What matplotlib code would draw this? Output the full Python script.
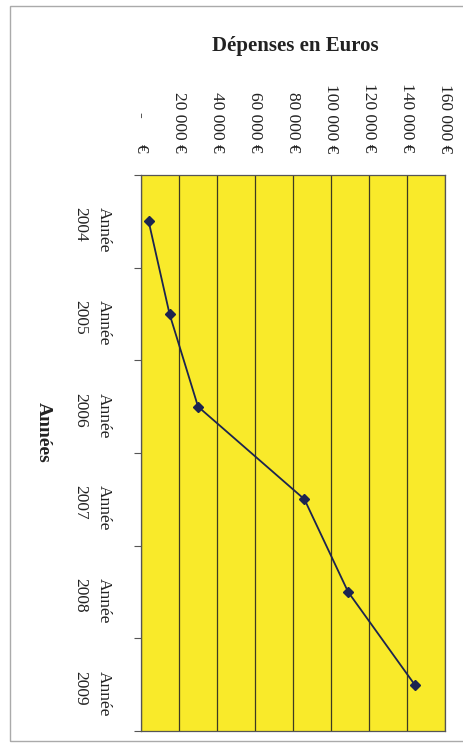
#!/usr/bin/env python3
"""Dépenses en Euros par année, graphique tourné (lecture de haut en bas)."""

import matplotlib

matplotlib.use("Agg")
import matplotlib.pyplot as plt
import numpy as np
from matplotlib.patches import Rectangle

years = ["Année\n2004", "Année\n2005", "Année\n2006", "Année\n2007", "Année\n2008", "Année\n2009"]
spending = [4000, 15000, 30000, 86000, 109000, 144000]
value_ticks = [0, 20000, 40000, 60000, 80000, 100000, 120000, 140000, 160000]
value_labels = ["-      €", "20 000 €", "40 000 €", "60 000 €", "80 000 €",
                "100 000 €", "120 000 €", "140 000 €", "160 000 €"]

YELLOW = "#f9ea2a"
NAVY = "#1c2450"
GRID = "#3d3a22"
SERIF = "Liberation Serif"


def main() -> None:
    fig = plt.figure(figsize=(4.64, 7.45), dpi=100)
    ax = fig.add_axes([0.304, 0.019, 0.655, 0.746])
    ax.set_facecolor(YELLOW)

    pos = np.arange(len(years))
    ax.plot(spending, pos, color=NAVY, linewidth=1.3, marker="D",
            markersize=5, markerfacecolor=NAVY, markeredgecolor=NAVY, zorder=3)

    ax.set_xlim(value_ticks[0], value_ticks[-1])
    ax.set_ylim(len(years) - 0.5, -0.5)

    # value axis on top, labels read top-to-bottom
    ax.xaxis.tick_top()
    ax.set_xticks(value_ticks)
    ax.set_xticklabels(value_labels, rotation=-90, fontfamily=SERIF, fontsize=12.5,
                       color="#222222")
    ax.tick_params(axis="x", length=0, pad=16)
    ax.grid(axis="x", color=GRID, linewidth=0.9)
    ax.set_axisbelow(True)

    # category axis on the left
    ax.set_yticks(pos)
    ax.set_yticklabels(years, rotation=-90, fontfamily=SERIF, fontsize=12.5,
                       color="#222222", multialignment="left", linespacing=1.6)
    ax.tick_params(axis="y", which="major", length=0, pad=21)
    ax.set_yticks(np.arange(-0.5, len(years), 1.0), minor=True)
    ax.tick_params(axis="y", which="minor", length=5, color="#555555", width=0.8)

    for side in ["left", "right", "top", "bottom"]:
        ax.spines[side].set_color("#555555")
        ax.spines[side].set_linewidth(0.9)

    fig.text(0.636, 0.938, "Dépenses en Euros", ha="center", va="center",
             fontfamily=SERIF, fontsize=15, fontweight="bold", color="#222222")
    fig.text(0.093, 0.42, "Années", ha="center", va="center", rotation=-90,
             fontfamily=SERIF, fontsize=14, fontweight="bold", color="#222222")

    # scanned chart border
    fig.patches.append(Rectangle((0.022, 0.006), 1.0, 0.986, transform=fig.transFigure,
                                 fill=False, edgecolor="#aaaaaa", linewidth=1.0))

    fig.savefig("out.png", dpi=100)
    plt.close(fig)


if __name__ == "__main__":
    main()
